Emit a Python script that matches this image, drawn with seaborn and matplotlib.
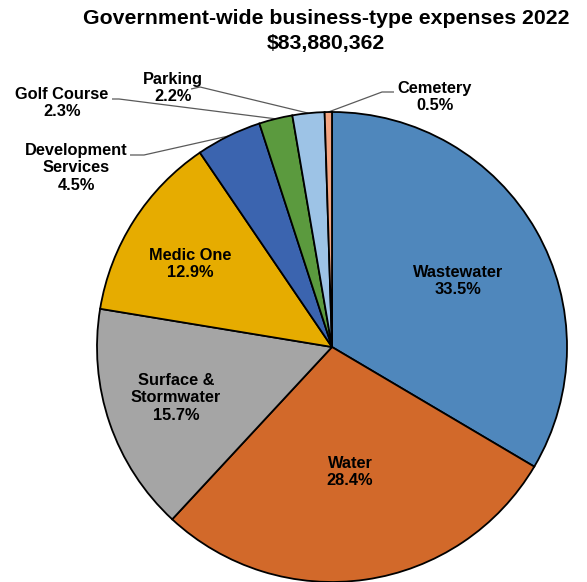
import numpy as np
import matplotlib
matplotlib.use("Agg")
import matplotlib.pyplot as plt
import seaborn as sns

# Business-type expense shares (percent), clockwise from 12 o'clock
categories = ["Wastewater", "Water", "Surface &\nStormwater", "Medic One",
              "Development\nServices", "Golf Course", "Parking", "Cemetery"]
shares = [33.5, 28.4, 15.7, 12.9, 4.5, 2.3, 2.2, 0.5]
total_label = "$83,880,362"
title = "Government-wide business-type expenses 2022"

colors = sns.color_palette(["#4F87BC", "#D2692A", "#A5A5A5", "#E6AC00",
                            "#3B64AF", "#5B9A3E", "#9DC3E6", "#F4A582"])

sns.set_theme(style="white")
plt.rcParams["font.family"] = ["Liberation Sans", "DejaVu Sans"]

W, H = 587, 582
cx, cy, R = 332, 347, 235  # pie centre and radius in pixels

fig = plt.figure(figsize=(W / 100, H / 100), dpi=100)
ax = fig.add_axes([0, 0, 1, 1])

wedges, _ = ax.pie(shares, startangle=90, counterclock=False, colors=colors,
                   radius=1.0, center=(0, 0),
                   wedgeprops=dict(edgecolor="black", linewidth=1.3))

# pie() sets its own limits; map the whole figure onto data units afterwards
ax.set_xlim(-cx / R, (W - cx) / R)
ax.set_ylim((cy - H) / R, cy / R)
ax.set_aspect("equal")
ax.axis("off")

LABEL_SIZE = 11.8
LINE_SP = 1.2


def px(x, y):
    return (x - cx) / R, (cy - y) / R


def label_text(i):
    return f"{categories[i]}\n{shares[i]:.1f}%"


# labels drawn inside the larger slices
inside = {0: (458, 281), 1: (350, 472), 2: (176, 398), 3: (190, 264)}
for i, (x, y) in inside.items():
    ax.text(*px(x, y), label_text(i), ha="center", va="center",
            fontsize=LABEL_SIZE, fontweight="bold", color="black",
            linespacing=LINE_SP)

# outside labels with leader lines: text centre, line start, elbow
outside = {
    4: ((76, 168), (130, 155), (144, 155)),
    5: ((62, 103), (112, 99), (119, 99)),
    6: ((173, 88), (191, 89), (200, 87)),
    7: ((435, 97), (394, 92), (382, 92)),
}
cum = np.cumsum([0] + shares)
for i, ((tx, ty), start, elbow) in outside.items():
    ax.text(*px(tx, ty), label_text(i), ha="center", va="center",
            fontsize=LABEL_SIZE, fontweight="bold", color="black",
            linespacing=LINE_SP)
    mid = (cum[i] + cum[i + 1]) / 2 / 100.0
    ang = np.deg2rad(90 - 360 * mid)
    ex, ey = np.cos(ang), np.sin(ang)
    sx, sy = px(*start)
    bx, by = px(*elbow)
    ax.plot([sx, bx, ex], [sy, by, ey], color="#5a5a5a", lw=0.9,
            solid_capstyle="butt", zorder=0)

fig.text(326 / W, 1 - 19 / H, title, ha="center", va="center",
         fontsize=15.3, fontweight="bold", color="black")
fig.text(326 / W, 1 - 44 / H, total_label, ha="center", va="center",
         fontsize=15.3, fontweight="bold", color="black")

fig.savefig("out.png", dpi=100, facecolor="white")
